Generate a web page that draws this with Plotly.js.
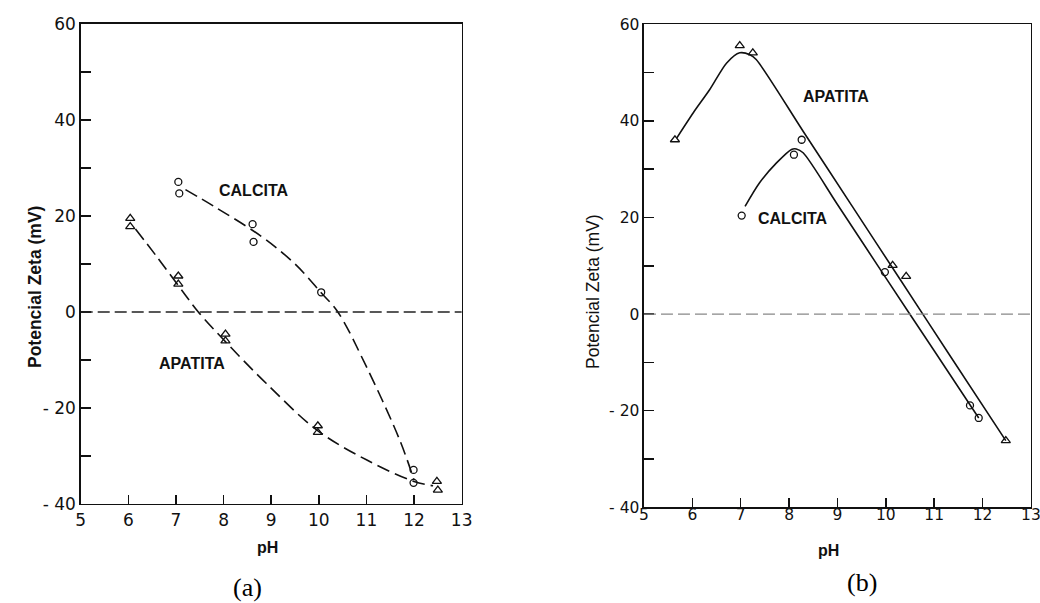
<!DOCTYPE html>
<html>
<head>
<meta charset="utf-8">
<script src="https://cdn.plot.ly/plotly-3.0.1.min.js"></script>
<style>html,body{margin:0;padding:0;background:#fff;}#chart{width:1040px;height:603px;}</style>
</head>
<body>
<div id="chart"></div>
<script>
// ---- Panel (a) measured points ----
const aCalcitaX = [7.05, 7.07, 8.61, 8.63, 10.05, 11.99, 11.99];
const aCalcitaY = [27.1, 24.7, 18.3, 14.6, 4.1, -32.9, -35.6];
const aApatitaX = [6.04, 6.04, 7.05, 7.05, 8.04, 8.04, 9.98, 9.98, 12.48, 12.50];
const aApatitaY = [19.5, 17.8, 7.5, 5.8, -4.6, -6.0, -23.7, -25.1, -35.3, -37.1];
// ---- Panel (a) fitted curves (dashed) ----
const aCalcitaFitX = [7.2, 7.8, 8.8, 9.5, 10.05, 10.4, 11.0, 11.7, 12.0];
const aCalcitaFitY = [25.5, 22.0, 15.7, 10.0, 4.0, 0.0, -11.4, -26.7, -35.0];
const aApatitaFitX = [6.15, 6.6, 7.2, 7.47, 8.07, 8.9, 9.96, 11.0, 12.0, 12.4];
const aApatitaFitY = [17.3, 11.5, 3.5, 0.0, -6.5, -14.9, -24.6, -30.8, -35.3, -36.2];

// ---- Panel (b) measured points ----
const bApatitaX = [5.64, 6.98, 7.25, 10.14, 10.42, 12.48];
const bApatitaY = [36.1, 55.6, 54.1, 10.1, 7.8, -26.2];
const bCalcitaX = [7.02, 8.10, 8.26, 9.98, 11.74, 11.92];
const bCalcitaY = [20.4, 33.0, 36.1, 8.7, -18.9, -21.5];
// ---- Panel (b) fitted curves (solid) ----
const bApatitaFitX = [5.68, 6.02, 6.36, 6.71, 6.98, 7.19, 7.32, 8.3, 9.3, 10.3, 11.3, 12.48];
const bApatitaFitY = [36.5, 41.7, 46.5, 52.0, 54.1, 53.7, 52.7, 37.7, 22.4, 7.1, -8.2, -26.2];
const bCalcitaFitX = [7.09, 7.39, 7.74, 8.05, 8.15, 8.29, 9.0, 10.0, 11.0, 11.92];
const bCalcitaFitY = [22.3, 27.2, 31.3, 34.1, 34.2, 33.4, 22.7, 7.5, -7.6, -21.5];

// ---- Axes ----
const xTickVals = [5, 6, 7, 8, 9, 10, 11, 12, 13];
const xTickText = ['5', '6', '7', '8', '9', '10', '11', '12', '13'];
const yTickVals = [-40, -20, 0, 20, 40, 60];
const yTickText = ['- 40', '- 20', '0', '20', '40', '60'];

const tickFontA = {family: 'DejaVu Sans, sans-serif', size: 17, color: '#111'};
const tickFontB = {family: 'DejaVu Sans, sans-serif', size: 15.5, color: '#111'};
const lbl = {family: 'Liberation Sans, Arial, sans-serif', size: 16, color: '#111'};

function xAxis(domain, anchor, standoff, font) {
  return {
    domain: domain, anchor: anchor, range: [5, 13], fixedrange: true,
    tickmode: 'array', tickvals: xTickVals, ticktext: xTickText,
    ticks: 'inside', ticklen: 9, tickwidth: 1.5, tickcolor: '#111',
    ticklabelstandoff: standoff, ticklabeloverflow: 'allow',
    showline: true, linecolor: '#111', linewidth: 1.5, mirror: true,
    showgrid: false, zeroline: false, tickfont: font, automargin: false
  };
}
function yAxis(domain, anchor, font) {
  return {
    domain: domain, anchor: anchor, range: [-40, 60], fixedrange: true,
    tickmode: 'array', tickvals: yTickVals, ticktext: yTickText,
    ticks: 'inside', ticklen: 10, tickwidth: 1.5, tickcolor: '#111',
    ticklabeloverflow: 'allow',
    minor: {ticks: 'inside', dtick: 10, ticklen: 10, tickwidth: 1.5, tickcolor: '#111', showgrid: false},
    showline: true, linecolor: '#111', linewidth: 1.5, mirror: true,
    showgrid: false, zeroline: false, tickfont: font, automargin: false
  };
}

const traces = [
  {x: aCalcitaFitX, y: aCalcitaFitY, xaxis: 'x', yaxis: 'y', mode: 'lines',
   line: {color: '#111', width: 1.6, dash: '13px,6px', shape: 'spline', smoothing: 1}, hoverinfo: 'skip'},
  {x: aApatitaFitX, y: aApatitaFitY, xaxis: 'x', yaxis: 'y', mode: 'lines',
   line: {color: '#111', width: 1.6, dash: '13px,6px', shape: 'spline', smoothing: 1}, hoverinfo: 'skip'},
  {x: aCalcitaX, y: aCalcitaY, xaxis: 'x', yaxis: 'y', mode: 'markers', name: 'CALCITA',
   marker: {symbol: 'circle-open', size: 7, color: '#111', line: {width: 1.3}}},
  {x: aApatitaX, y: aApatitaY, xaxis: 'x', yaxis: 'y', mode: 'markers', name: 'APATITA',
   marker: {symbol: 'triangle-up-open', size: 8, color: '#111', line: {width: 1.3}}},

  {x: bApatitaFitX, y: bApatitaFitY, xaxis: 'x2', yaxis: 'y2', mode: 'lines',
   line: {color: '#111', width: 1.6, shape: 'spline', smoothing: 0.8}, hoverinfo: 'skip'},
  {x: bCalcitaFitX, y: bCalcitaFitY, xaxis: 'x2', yaxis: 'y2', mode: 'lines',
   line: {color: '#111', width: 1.6, shape: 'spline', smoothing: 0.8}, hoverinfo: 'skip'},
  {x: bApatitaX, y: bApatitaY, xaxis: 'x2', yaxis: 'y2', mode: 'markers', name: 'APATITA',
   marker: {symbol: 'triangle-up-open', size: 8, color: '#111', line: {width: 1.3}}},
  {x: bCalcitaX, y: bCalcitaY, xaxis: 'x2', yaxis: 'y2', mode: 'markers', name: 'CALCITA',
   marker: {symbol: 'circle-open', size: 7, color: '#111', line: {width: 1.3}}}
];

function paperText(px, py, text, font, angle) {
  return {xref: 'paper', yref: 'paper', x: px / 1040, y: 1 - py / 603, text: text,
          xanchor: 'center', yanchor: 'middle', textangle: angle || 0, showarrow: false, font: font};
}

const layout = {
  width: 1040, height: 603,
  margin: {l: 0, r: 0, t: 0, b: 0},
  paper_bgcolor: '#fff', plot_bgcolor: '#fff',
  showlegend: false,
  xaxis: xAxis([0.0776, 0.4439], 'y', 0, tickFontA),
  yaxis: yAxis([0.1642, 0.9602], 'x', tickFontA),
  xaxis2: xAxis([0.6192, 0.9913], 'y2', -7, tickFontB),
  yaxis2: yAxis([0.1587, 0.9597], 'x2', tickFontB),
  shapes: [
    {type: 'line', xref: 'x domain', yref: 'y', x0: 0, x1: 1, y0: 0, y1: 0,
     line: {color: '#222', width: 1.3, dash: '12px,5px'}},
    {type: 'line', xref: 'x2 domain', yref: 'y2', x0: 0, x1: 1, y0: 0, y1: 0,
     line: {color: '#888', width: 1.3, dash: '12px,5px'}}
  ],
  annotations: [
    {xref: 'x', yref: 'y', x: 8.63, y: 25.3, text: '<b>CALCITA</b>', showarrow: false, font: lbl},
    {xref: 'x', yref: 'y', x: 7.33, y: -10.7, text: '<b>APATITA</b>', showarrow: false, font: lbl},
    {xref: 'x2', yref: 'y2', x: 8.97, y: 45.1, text: '<b>APATITA</b>', showarrow: false, font: lbl},
    {xref: 'x2', yref: 'y2', x: 8.08, y: 19.8, text: '<b>CALCITA</b>', showarrow: false, font: lbl},
    paperText(35, 287, '<b>Potencial Zeta (mV)</b>', {family: 'Liberation Sans, Arial, sans-serif', size: 17.5, color: '#111'}, -90),
    paperText(593, 292, 'Potencial Zeta (mV)', {family: 'Liberation Sans, Arial, sans-serif', size: 17.5, color: '#111'}, -90),
    paperText(267, 547, '<b>pH</b>', {family: 'Liberation Sans, Arial, sans-serif', size: 16, color: '#111'}),
    paperText(828, 550, '<b>pH</b>', {family: 'Liberation Sans, Arial, sans-serif', size: 16, color: '#111'}),
    paperText(247, 587, '(a)', {family: 'Liberation Serif, Times New Roman, serif', size: 26, color: '#000'}),
    paperText(862, 582, '(b)', {family: 'Liberation Serif, Times New Roman, serif', size: 26, color: '#000'})
  ]
};

Plotly.newPlot('chart', traces, layout, {staticPlot: true, displayModeBar: false});
</script>
</body>
</html>
